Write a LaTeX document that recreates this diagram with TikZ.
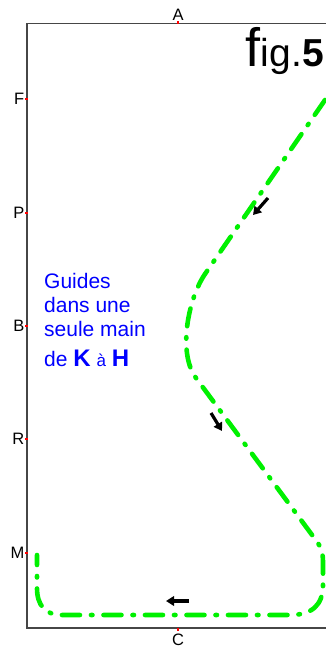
\documentclass[tikz,border=0pt]{standalone}
\usepackage{fontspec}
\setmainfont{Liberation Sans}
\usetikzlibrary{arrows.meta}
\definecolor{pathgreen}{RGB}{0,240,0}
\definecolor{txtblue}{RGB}{0,0,255}
\definecolor{framegray}{RGB}{70,70,70}
\begin{document}
\begin{tikzpicture}[x=1pt,y=-1pt,
  frame/.style={draw=framegray,line width=1.1pt},
  reddot/.style={fill=red,draw=none,rectangle,minimum size=2.6pt,inner sep=0pt},
  axislabel/.style={font=\fontsize{16.5}{16.5}\selectfont,inner sep=0pt},
  bluetext/.style={font=\fontsize{21}{21}\selectfont,text=txtblue,inner sep=0pt,anchor=base west},
  route/.style={draw=pathgreen,line width=4.6pt,line cap=round,line join=round,dash pattern=on 18pt off 11pt on 1.5pt off 11pt},
  dirarrow/.style={-{Triangle[length=8pt,width=9.5pt]},line width=3.2pt,draw=black}
]
\useasboundingbox (0,0) rectangle (325,647);
% frame
\draw[frame] (326,23.5) -- (27,23.5) -- (27,628) -- (326,628);
% marks on the frame
\node[reddot] (A) at (178,22.5) {};
\node[reddot] (F) at (26.5,99) {};
\node[reddot] (P) at (26.5,213) {};
\node[reddot] (B) at (26.5,326) {};
\node[reddot] (R) at (26.5,439) {};
\node[reddot] (M) at (26.5,553) {};
\node[reddot] (C) at (178,629.5) {};
\node[axislabel,anchor=base] (lA) at (178,20.5) {A};
\node[axislabel,anchor=east] (lF) at (24.5,99) {F};
\node[axislabel,anchor=east] (lP) at (24.5,213) {P};
\node[axislabel,anchor=east] (lB) at (24.5,326) {B};
\node[axislabel,anchor=east] (lR) at (24.5,439) {R};
\node[axislabel,anchor=east] (lM) at (24.5,553) {M};
\node[axislabel,anchor=base] (lC) at (178,645) {C};
% title
\node[inner sep=0pt,anchor=base east] (title) at (324,67)
  {{\fontsize{54}{54}\selectfont f}{\fontsize{39}{39}\selectfont ig.}{\fontsize{39}{39}\selectfont\bfseries 5}};
% blue text
\node[bluetext] (t1) at (44,288) {Guides};
\node[bluetext] (t2) at (44,312) {dans une};
\node[bluetext] (t3) at (44,336) {seule main};
\node[bluetext] (t4) at (44,366) {de {\fontsize{24}{24}\selectfont\bfseries K} {\fontsize{17}{17}\selectfont à} {\fontsize{24}{24}\selectfont\bfseries H}};
% route
\coordinate (p0) at (325,100);
\coordinate (p1) at (205,274);
\coordinate (p2) at (196,378);
\coordinate (p3) at (318,543);
\coordinate (p4) at (323,562);
\coordinate (p5) at (323,585);
\coordinate (p6) at (290,615);
\coordinate (p7) at (62,615);
\coordinate (p8) at (37,588);
\coordinate (p9) at (37,555);
\draw[route] (p0) -- (p1) .. controls (188,299) and (177.5,353) .. (p2) -- (p3)
  .. controls (321,548) and (323,553) .. (p4) -- (p5)
  .. controls (323,605) and (312,615) .. (p6) -- (p7)
  .. controls (45,615) and (37,605) .. (p8) -- (p9);
% direction arrows
\coordinate (a1s) at (268,198); \coordinate (a1e) at (253,215);
\coordinate (a2s) at (211,413); \coordinate (a2e) at (222,431);
\coordinate (a3s) at (189,601); \coordinate (a3e) at (166,601);
\draw[dirarrow] (a1s) -- (a1e);
\draw[dirarrow] (a2s) -- (a2e);
\draw[dirarrow] (a3s) -- (a3e);
\end{tikzpicture}
\end{document}
